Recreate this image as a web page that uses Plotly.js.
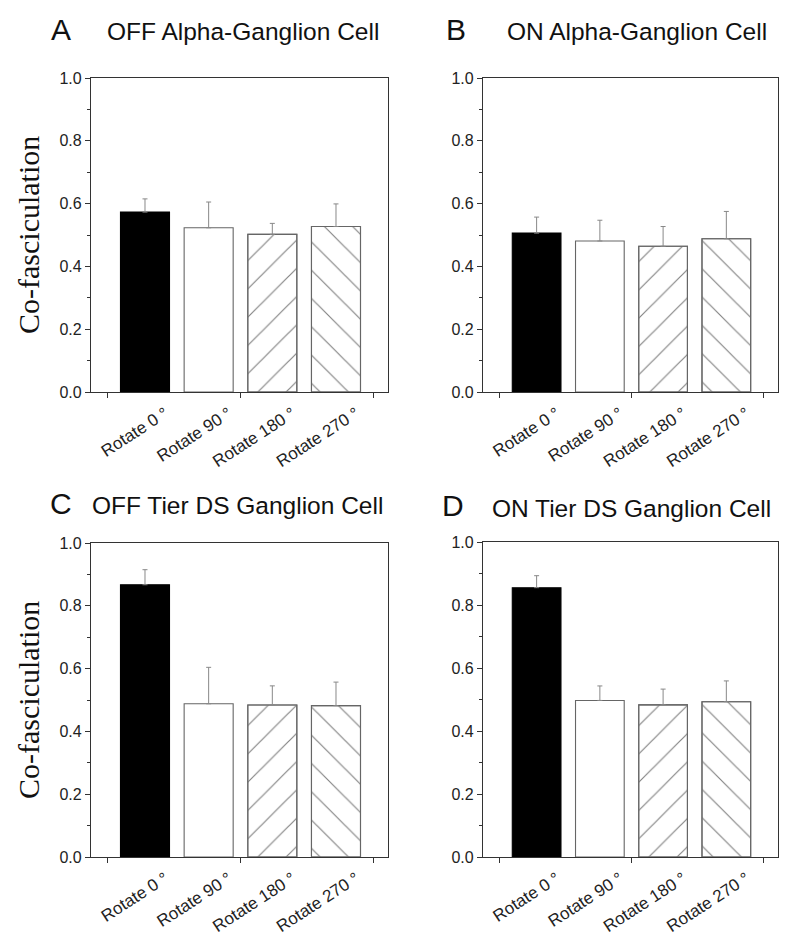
<!DOCTYPE html>
<html>
<head>
<meta charset="utf-8">
<script src="https://cdn.plot.ly/plotly-3.0.1.min.js"></script>
<style>html,body{margin:0;padding:0;background:#fff;}#chart{width:800px;height:936px;}</style>
</head>
<body>
<div id="chart"></div>
<script>
// ---- data ----
const categories = ['Rotate 0 °', 'Rotate 90 °', 'Rotate 180 °', 'Rotate 270 °'];
const panelLetters = ['A', 'B', 'C', 'D'];
const panelTitles = ['OFF Alpha-Ganglion Cell', 'ON Alpha-Ganglion Cell', 'OFF Tier DS Ganglion Cell', 'ON Tier DS Ganglion Cell'];
const yTitle = 'Co-fasciculation';

const valuesA = [0.573, 0.523, 0.502, 0.527];
const errorsA = [0.042, 0.082, 0.035, 0.072];
const valuesB = [0.506, 0.481, 0.464, 0.488];
const errorsB = [0.051, 0.066, 0.063, 0.087];
const valuesC = [0.867, 0.488, 0.484, 0.482];
const errorsC = [0.048, 0.116, 0.061, 0.075];
const valuesD = [0.855, 0.497, 0.483, 0.493];
const errorsD = [0.038, 0.046, 0.050, 0.066];

const yTicks = [0, 0.2, 0.4, 0.6, 0.8, 1.0];
const bottomTicks = [-0.59, 1.5, 3.59];

// ---- styles ----
const fills = ['#000000', '#ffffff', '#ffffff', '#ffffff'];
const outlines = ['#000000', '#666666', '#666666', '#666666'];
const hatches = ['', '', '/', '\\'];
const axisColor = '#333333';
const xRange = [-0.848, 3.817];

const values = [valuesA, valuesB, valuesC, valuesD];
const errors = [errorsA, errorsB, errorsC, errorsD];

const W = 800, H = 936;
const boxes = [
  {x0: 91, x1: 388, y0: 78, y1: 392},
  {x0: 483, x1: 778, y0: 78, y1: 392},
  {x0: 91, x1: 388, y0: 543, y1: 857},
  {x0: 483, x1: 778, y0: 542, y1: 857}
];

const traces = [];
const layout = {
  width: W, height: H,
  margin: {l: 0, r: 0, t: 0, b: 0},
  paper_bgcolor: '#ffffff',
  plot_bgcolor: '#ffffff',
  showlegend: false,
  barmode: 'overlay',
  font: {family: 'Liberation Sans, Arial, sans-serif', color: '#222222'},
  annotations: []
};

for (let i = 0; i < 4; i++) {
  const n = i + 1;
  const xa = n === 1 ? 'x' : 'x' + n;
  const ya = n === 1 ? 'y' : 'y' + n;
  const xk = n === 1 ? 'xaxis' : 'xaxis' + n;
  const yk = n === 1 ? 'yaxis' : 'yaxis' + n;
  const b = boxes[i];
  const xdom = [b.x0 / W, b.x1 / W];
  const ydom = [1 - b.y1 / H, 1 - b.y0 / H];

  // base bars
  traces.push({
    type: 'bar',
    x: categories,
    y: values[i],
    width: 0.77,
    xaxis: xa, yaxis: ya,
    marker: {color: fills, line: {color: outlines, width: 1.1}},
    hoverinfo: 'skip'
  });
  // hatch overlays, one trace per hatch shape
  ['/', '\\'].forEach(function (shape) {
    traces.push({
      type: 'bar',
      x: categories,
      y: values[i].map(function (v, k) { return hatches[k] === shape ? v : null; }),
      width: 0.77,
      xaxis: xa, yaxis: ya,
      marker: {
        color: 'rgba(255,255,255,0)',
        line: {color: '#666666', width: 1.1},
        pattern: {shape: shape, fgcolor: '#858585', fgopacity: 1, bgcolor: 'rgba(255,255,255,0)', size: 20, solidity: 0.06, fillmode: 'overlay'}
      },
      hoverinfo: 'skip'
    });
  });
  // error bars on top
  traces.push({
    type: 'bar',
    x: categories,
    y: values[i],
    width: 0.77,
    xaxis: xa, yaxis: ya,
    marker: {color: 'rgba(0,0,0,0)', line: {width: 0}},
    error_y: {type: 'data', symmetric: false, array: errors[i], arrayminus: [0, 0, 0, 0], color: '#888888', thickness: 1, width: 2.5},
    hoverinfo: 'skip'
  });

  layout[xk] = {
    domain: xdom, anchor: ya, type: 'category', range: xRange,
    showline: true, mirror: true, linecolor: axisColor, linewidth: 1.3,
    ticks: '', showgrid: false, zeroline: false,
    tickangle: -33, ticklabelshift: 20, ticklabelstandoff: 4,
    tickfont: {size: 17, family: 'Liberation Sans, Arial, sans-serif', color: '#222'}
  };
  layout[yk] = {
    domain: ydom, anchor: xa, range: [0, 1],
    tickmode: 'array', tickvals: yTicks, tickformat: '.1f',
    ticks: 'outside', ticklen: 5, tickcolor: axisColor, tickwidth: 1.1,
    minor: {tickmode: 'linear', tick0: 0, dtick: 0.1, ticks: 'outside', ticklen: 3, tickcolor: axisColor, showgrid: false},
    showline: true, mirror: true, linecolor: axisColor, linewidth: 1.3,
    showgrid: false, zeroline: false,
    tickfont: {size: 16, family: 'Liberation Sans, Arial, sans-serif', color: '#222'}
  };

  const on = n + 4;
  layout['xaxis' + on] = {
    overlaying: xa, anchor: ya, side: 'bottom', type: 'linear', range: xRange,
    tickmode: 'array', tickvals: bottomTicks, showticklabels: false,
    ticks: 'outside', ticklen: 5, tickcolor: axisColor, tickwidth: 1.1,
    showline: false, showgrid: false, zeroline: false
  };
  traces.push({type: 'scatter', x: [], y: [], xaxis: 'x' + on, yaxis: ya, hoverinfo: 'skip', showlegend: false});

  const letterX = [61, 456, 61, 453][i];
  const titleX = [105, 505, 90, 490][i];
  const cy = [29, 29, 503, 506][i];
  layout.annotations.push({
    xref: 'paper', yref: 'paper', x: letterX / W, y: 1 - cy / H,
    xanchor: 'center', yanchor: 'middle', showarrow: false,
    text: panelLetters[i], font: {size: 30, family: 'Liberation Sans, Arial, sans-serif', color: '#111'}
  });
  layout.annotations.push({
    xref: 'paper', yref: 'paper', x: titleX / W, y: 1 - (cy + 3) / H,
    xanchor: 'left', yanchor: 'middle', showarrow: false,
    text: panelTitles[i], font: {size: 24.5, family: 'Liberation Sans, Arial, sans-serif', color: '#111'}
  });
  if (i === 0 || i === 2) {
    layout.annotations.push({
      xref: 'paper', yref: 'paper', x: 28 / W, y: 1 - ((b.y0 + b.y1) / 2) / H,
      xanchor: 'center', yanchor: 'middle', showarrow: false, textangle: -90,
      text: yTitle, font: {size: 30, family: 'Liberation Serif, Times New Roman, serif', color: '#111'}
    });
  }
}

Plotly.newPlot('chart', traces, layout, {displayModeBar: false});
</script>
</body>
</html>
